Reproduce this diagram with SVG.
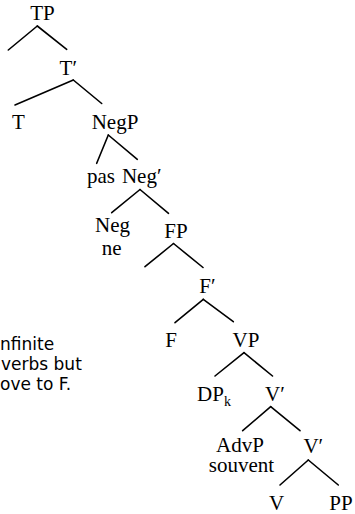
<svg xmlns="http://www.w3.org/2000/svg" width="355" height="514" viewBox="0 0 355 514">
<style>
.n{font-family:'Liberation Serif','Times New Roman','DejaVu Serif',serif;font-size:21px;fill:#000;text-anchor:middle}
.s{font-size:14px}
.note{font-family:'DejaVu Sans','Liberation Sans',sans-serif;font-size:17px;fill:#000}
.e line{stroke:#000;stroke-width:1.6;stroke-linecap:round}
</style>
<rect width="355" height="514" fill="#fff"/>
<g id="connectors" class="e">
<line x1="37.3" y1="26" x2="8.3" y2="50"/>
<line x1="37.3" y1="26" x2="66.7" y2="49.3"/>
<line x1="73.3" y1="80" x2="15" y2="105"/>
<line x1="73.3" y1="80" x2="101.7" y2="103.5"/>
<line x1="108.3" y1="135" x2="96.7" y2="163.3"/>
<line x1="108.3" y1="135" x2="137.3" y2="159.3"/>
<line x1="140" y1="189.5" x2="111.7" y2="212.7"/>
<line x1="140" y1="189.5" x2="168.5" y2="213.3"/>
<line x1="173.5" y1="243.5" x2="145" y2="266.7"/>
<line x1="173.5" y1="243.5" x2="203" y2="267.5"/>
<line x1="203.3" y1="299.3" x2="175" y2="322.7"/>
<line x1="203.3" y1="299.3" x2="233.3" y2="321.7"/>
<line x1="244" y1="352.7" x2="215" y2="376"/>
<line x1="244" y1="352.7" x2="272.5" y2="376"/>
<line x1="270.7" y1="406.7" x2="242.7" y2="430.7"/>
<line x1="270.7" y1="406.7" x2="300" y2="430.7"/>
<line x1="308.3" y1="460" x2="280" y2="485"/>
<line x1="308.3" y1="460" x2="338.3" y2="485"/>
</g>
<g font-family="Liberation Serif, serif" font-size="21" text-anchor="middle">
<g id="TP"><text class="n" x="42.5" y="20">TP</text></g>
<g id="Tbar"><text class="n" x="68.3" y="74.5">T′</text></g>
<g id="T"><text class="n" x="18.3" y="129">T</text></g>
<g id="NegP"><text class="n" x="115" y="129">NegP</text></g>
<g id="pas"><text class="n" x="101" y="183.3">pas</text></g>
<g id="Negbar"><text class="n" x="141.7" y="183.3">Neg′</text></g>
<g id="Neg"><text class="n" x="112.5" y="232">Neg</text><text class="n" x="111.7" y="255">ne</text></g>
<g id="FP"><text class="n" x="176" y="237.6">FP</text></g>
<g id="Fbar"><text class="n" x="207.5" y="292.5">F′</text></g>
<g id="F"><text class="n" x="171" y="347">F</text></g>
<g id="VP"><text class="n" x="246" y="347">VP</text></g>
<g id="DPk"><text class="n" x="214" y="400.8">DP<tspan class="s" dy="5">k</tspan></text></g>
<g id="Vbar1"><text class="n" x="275" y="400.8">V′</text></g>
<g id="AdvP"><text class="n" x="240" y="452">AdvP</text><text class="n" x="241.5" y="472">souvent</text></g>
<g id="Vbar2"><text class="n" x="313.3" y="453">V′</text></g>
<g id="V"><text class="n" x="276.7" y="509.6">V</text></g>
<g id="PP"><text class="n" x="341" y="509.6">PP</text></g>
</g>
<g id="note">
<text class="note" x="0" y="350">nfinite</text>
<text class="note" x="1" y="370">verbs but</text>
<text class="note" x="0" y="390">ove to F.</text>
</g>
</svg>
